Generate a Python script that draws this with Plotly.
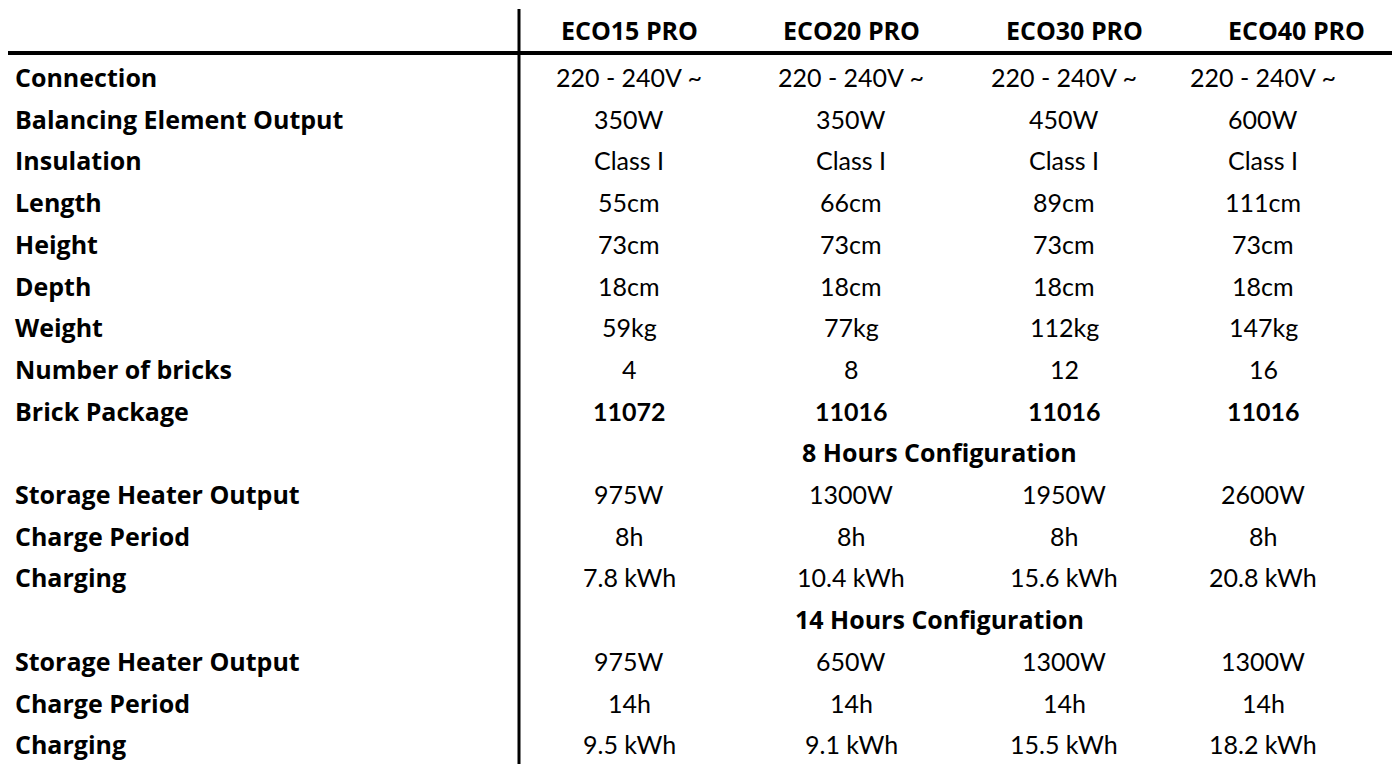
import plotly.graph_objects as go

models = ["ECO15 PRO", "ECO20 PRO", "ECO30 PRO", "ECO40 PRO"]
rows = [
    ("Connection", ["220 - 240V ~"] * 4),
    ("Balancing Element Output", ["350W", "350W", "450W", "600W"]),
    ("Insulation", ["Class I"] * 4),
    ("Length", ["55cm", "66cm", "89cm", "111cm"]),
    ("Height", ["73cm"] * 4),
    ("Depth", ["18cm"] * 4),
    ("Weight", ["59kg", "77kg", "112kg", "147kg"]),
    ("Number of bricks", ["4", "8", "12", "16"]),
    ("Brick Package", ["11072", "11016", "11016", "11016"]),
    ("8 Hours Configuration", None),
    ("Storage Heater Output", ["975W", "1300W", "1950W", "2600W"]),
    ("Charge Period", ["8h"] * 4),
    ("Charging", ["7.8 kWh", "10.4 kWh", "15.6 kWh", "20.8 kWh"]),
    ("14 Hours Configuration", None),
    ("Storage Heater Output", ["975W", "650W", "1300W", "1300W"]),
    ("Charge Period", ["14h"] * 4),
    ("Charging", ["9.5 kWh", "9.1 kWh", "15.5 kWh", "18.2 kWh"]),
]
bold_rows = ["Brick Package"]

col_x = [630, 852, 1065, 1264]
head_x = [630, 852, 1075, 1297]
D = 9  # page offset correction
VF = "Lato"
BF = "Open Sans"
fig = go.Figure()
ann = []
for m, x in zip(models, head_x):
    ann.append(dict(x=x - D, y=31 - D, text=f"<b>{m}</b>", showarrow=False, font=dict(size=25, color="black", family=BF)))
for i, (label, vals) in enumerate(rows):
    y = 78 + i * 41.7 - D
    if vals is None:
        ann.append(dict(x=940 - D, y=y, text=f"<b>{label}</b>", showarrow=False, font=dict(size=25, color="black", family=BF)))
        continue
    ann.append(dict(x=14 - D, y=y, text=f"<b>{label}</b>", showarrow=False, xanchor="left", font=dict(size=25, color="black", family=BF)))
    for v, x in zip(vals, col_x):
        t = f"<b>{v}</b>" if label in bold_rows else v
        ann.append(dict(x=x - D, y=y, text=t, showarrow=False, font=dict(size=25, color="black", family=VF)))

fig.add_shape(type="line", x0=520 - D, x1=520 - D, y0=10 - D, y1=765 - D, line=dict(color="black", width=3))
fig.add_shape(type="line", x0=-20, x1=1420, y0=54 - D, y1=54 - D, line=dict(color="black", width=4))
fig.update_layout(
    width=1400, height=773, margin=dict(l=0, r=0, t=0, b=0),
    paper_bgcolor="white", plot_bgcolor="white", annotations=ann,
    xaxis=dict(range=[0, 1400], visible=False, fixedrange=True),
    yaxis=dict(range=[773, 0], visible=False, fixedrange=True),
    showlegend=False,
)
fig.write_html("out.html")
